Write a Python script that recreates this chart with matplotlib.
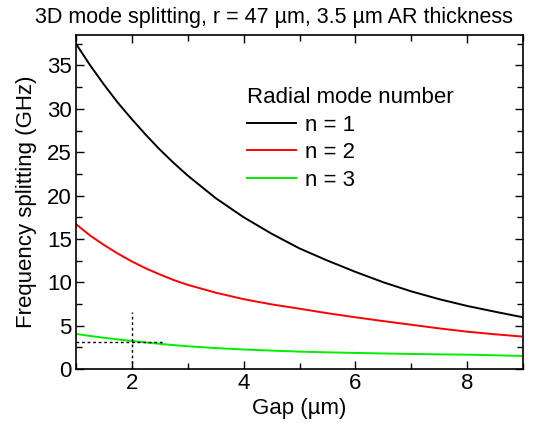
import matplotlib
matplotlib.use("Agg")
import matplotlib.pyplot as plt
from matplotlib.ticker import MultipleLocator

plt.rcParams['font.family'] = ['Liberation Sans', 'DejaVu Sans']

gap = [1, 1.25, 1.5, 1.75, 2, 2.25, 2.5, 2.75, 3, 3.5, 4, 4.5, 5, 5.5, 6, 6.5, 7, 7.5, 8, 8.5, 9]
n1 = [37.5, 35.05, 32.8, 30.7, 28.8, 27.0, 25.3, 23.75, 22.3, 19.7, 17.5, 15.6, 13.9, 12.5, 11.2, 10.0, 8.95, 8.05, 7.27, 6.6, 5.96]
n2 = [16.7, 15.4, 14.3, 13.3, 12.4, 11.6, 10.9, 10.25, 9.7, 8.8, 8.05, 7.45, 6.95, 6.43, 5.96, 5.52, 5.1, 4.68, 4.3, 4.0, 3.73]
n3 = [4.04, 3.81, 3.6, 3.41, 3.23, 3.06, 2.9, 2.75, 2.62, 2.41, 2.25, 2.12, 2.0, 1.92, 1.85, 1.79, 1.73, 1.69, 1.65, 1.58, 1.5]
labels = ["n = 1", "n = 2", "n = 3"]
colors = ["black", "#ff0000", "#00ee00"]

marker_x = [2, 2]
marker_y = [0, 6.6]
hline_x = [1, 2.6]
hline_y = [3.15, 3.15]

fig = plt.figure(figsize=(5.37, 4.23), dpi=100)
ax = fig.add_axes([0.1415, 0.1277, 0.974 - 0.1415, 0.917 - 0.1277])

for ys, lab, c in zip([n1, n2, n3], labels, colors):
    ax.plot(gap, ys, color=c, lw=1.4, label=lab)

ax.plot(marker_x, marker_y, color='black', lw=1.0, ls=(0, (2, 2)))
ax.plot(hline_x, hline_y, color='black', lw=1.0, ls=(0, (2, 2)))

ax.set_xlim(1, 9)
ax.set_ylim(0, 38.5)
ax.xaxis.set_major_locator(MultipleLocator(2))
ax.xaxis.set_minor_locator(MultipleLocator(1))
ax.yaxis.set_major_locator(MultipleLocator(5))
ax.yaxis.set_minor_locator(MultipleLocator(2.5))
ax.tick_params(which='both', direction='in', top=True, right=True, labelsize=16, width=1.0, pad=3)
ax.tick_params(which='major', length=6)
ax.tick_params(which='minor', length=4)
for s in ax.spines.values():
    s.set_linewidth(1.2)

ax.set_xlabel("Gap (µm)", fontsize=16, labelpad=3)
ax.set_ylabel("Frequency splitting (GHz)", fontsize=16, labelpad=7)
ax.set_title("3D mode splitting, r = 47 µm, 3.5 µm AR thickness", fontsize=15.5, pad=9, x=0.442)

leg = ax.legend(title="Radial mode number", frameon=False, fontsize=16, title_fontsize=16,
                loc='upper left', bbox_to_anchor=(0.382, 0.845), handlelength=2.2,
                handletextpad=0.4, labelspacing=0.3, borderaxespad=0, borderpad=0)
leg._legend_box.align = "left"

fig.savefig("out.png", dpi=100)
